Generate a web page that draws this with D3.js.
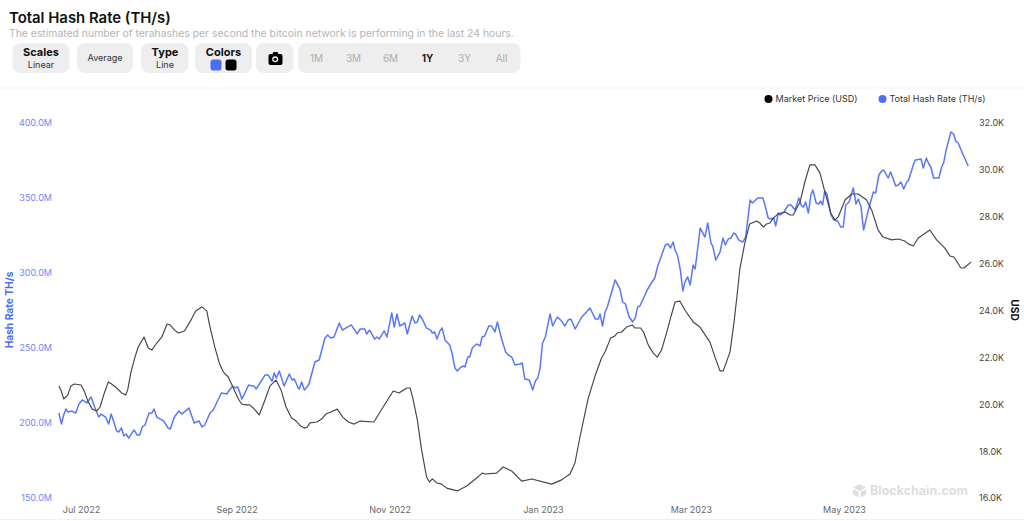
<!DOCTYPE html>
<html>
<head>
<meta charset="utf-8">
<title>Total Hash Rate (TH/s)</title>
<script src="https://cdn.jsdelivr.net/npm/d3@7"></script>
<style>
    html, body { margin: 0; padding: 0; background: #fff; overflow: hidden; }
    text { font-family: Inter, "Noto Sans", sans-serif; }
</style>
</head>
<body>
<div id="chart"></div>
<script>
// values, x is days since 1 Jul 2022
var hashDays = [-8.8,-7.8,-6.9,-6,-5.2,-3.6,-2.1,-0.8,0.5,2.3,4,5.6,7.1,8,9.8,11,12,13.1,14.2,15,16.1,17.1,18,19,21.1,22.4,23.4,24.4,25.5,27.1,28.3,29.1,30.2,32.9,34.7,35.6,37.2,39,40.1,43,45.1,47,48.2,49.3,51.4,52.7,55.9,58,60.4,61.4,62.5,64.1,66.8,68,68.9,69.8,73.3,74.6,76.1,77,77.8,79,80.9,83,84.1,85,86.5,87,87.9,89,90.7,93.2,94.9,97.2,98.3,99.5,100.8,102.9,104.1,106.1,107.7,110,111.2,113.1,113.8,115,117,117.9,118.8,120.8,121.9,123.8,124.8,125.9,127,129,130,131.9,133.1,134,134.9,136,137.6,139.3,140,140.9,141.8,143,143.9,145,146.9,147.7,149,149.9,151.4,152.5,153,154.1,154.9,155.9,157.6,159,159.8,160.8,162.5,163.6,164.9,165.9,167.7,169.2,170.2,171.6,172.9,174.9,175.8,176.8,178.6,180,181,182,182.9,183.9,185,186.9,187.9,189.8,191.5,192.8,194.1,195.2,196.9,199.5,200.7,202.8,204.9,206.1,206.8,207.8,208.8,209.7,212.8,214.7,215.8,216.9,218.4,219.8,220.8,221.8,222.7,225.6,227,228.6,229.8,232.8,233.9,234.9,235.9,236.7,237.7,238.8,239.8,240.6,241.7,242.7,243.9,244.7,246.7,248.6,249.7,251,251.7,252.9,254.6,255.8,256.7,257.9,259,260,260.8,262.1,263.7,264.8,266.6,267.5,269.6,271.7,272.5,273.8,274.9,276,276.8,277.8,278.6,280.1,281.8,282.9,284.5,286,287.1,287.9,288.7,289.8,290.8,291.6,292.9,294,294.7,295.5,296.3,297.2,298.8,299.9,301.5,302.7,303.7,304.7,306,307.7,308.8,309.7,310.8,311.8,313.4,315.7,316.6,317.9,319,319.8,321.6,322.6,324.6,325.6,326.7,327.8,329,329.6,332,332.5,334.7,335.6,336.8,337.8,338.6,339.7,341.8,342.9,343.7,344.7,346.6,347.7,348.5,349.5,351.5,353.5];
var hashValues = [206,198.7,204.7,208.7,206.7,207.3,206,212,214.7,212.7,216.7,209.3,203.3,205.3,203.3,198.7,205.3,200,194,193.3,196,190.7,192,189.3,194.7,191.3,191.3,196.7,198,206,206,208.7,203.3,200.7,196,195.3,203.3,207.3,205.3,209.3,199.3,200.7,196.7,198,206,208,219.3,218.7,224,222.7,223.3,215.3,224.7,224,224,222,231.3,231.3,227.3,232.7,229.3,234,224,232,228,228.7,222.7,222,226.7,221.3,224.7,240,241.3,256,258,256,256.7,266,261.3,263.3,264.7,258.7,262,262,258.7,261.3,255.3,256.7,255.3,260.7,256.7,272.7,263.3,272,264,266,258.7,270.7,266,266.7,271.3,268.7,262.7,261.3,259.3,260,255.3,260.7,262.7,254.7,251.3,246.7,236,234,236.7,237.3,236.7,243.3,243.3,249.3,252,250.7,256.7,257.3,264,264,260,266.7,254.7,246.7,244.7,243.3,238,238.7,239.3,228.7,228,221.3,227.3,229.3,236,252.7,256.7,272,264,270,267.3,264,268,268.7,262,270,272,276,268.7,268.7,272,264,273.3,276.7,294.7,288.7,280,278.7,270,266.7,269.3,276.7,277.3,288,292,296,304,318,318.7,316,320,314.7,310.7,301.3,287.3,293.3,296.7,291.3,304.7,302,329.3,323.3,332.7,319.3,317.3,308,313.3,322.7,318,322,322.7,326,325.3,321.3,320,323.3,348,346,349.3,349.3,344.7,336,335.3,336,330.7,339.3,338,340,344.7,344.7,341.3,349.3,344,343.3,346.7,339.3,351.3,354.7,346,345.3,347.3,344.7,354,352,338,334.7,334,330,330,344.7,346.7,356,345.3,348.7,343.3,328,339.3,353.3,352.7,364.7,367.3,368,362.7,366.7,357.3,358,360,355.3,360,360.7,373.3,374.7,375.3,369.3,376,372,370,362.7,362.7,370,372.7,381.3,393.3,392,387.3,386,378,370.7];
var priceDays = [-8.8,-8,-6.9,-5.3,-4,-2.7,0,1.3,2.9,4.5,6.3,7.6,9.3,10.9,12.2,14.2,16.2,17.8,18.6,19.9,21.5,22.8,25.1,26.8,28.2,30.2,32.2,34.3,35.5,37.2,38.8,41.2,43.4,45.7,48.1,50.1,51.4,53.4,55.1,56.7,58.7,60.7,62.7,64,65.7,67.1,68.6,71,73.3,75.3,77.7,79.7,81.7,83.9,85.7,87.5,89,90.2,91.2,93.9,95.9,97.6,99.5,102.1,104.3,106.5,108.8,111.2,116.7,120.4,124.4,126.7,129.8,131.1,132.1,134,135.7,137.7,138.8,140,141.7,143.7,145.7,149.9,153.7,157.6,159.9,161,165.6,168.2,171.6,175.6,179.6,187.5,191.5,194.8,196.8,198.8,202.1,204.8,207.4,208.8,211,212.7,213.7,215.4,217.4,219.6,220.7,223,224.3,226,228,229.6,231.3,233.3,234.9,236.7,238.6,240.6,243.9,246.6,250.6,252.6,254.6,255.9,258.6,260.2,261.4,262.5,264.5,266.4,269.2,270.5,271.9,273.2,274.5,275.8,277.8,280.5,282.5,283.8,285.2,286.5,288.4,290.4,292.4,294.4,296.4,298.7,300.4,301.7,304.4,307.1,309.7,313,315,317.6,319.6,323,325.6,328.3,329.6,331.6,333.6,338.2,340.9,344.2,346.2,347.8,350.6,351.8,354.7];
var priceValues = [20.74,20.57,20.18,20.35,20.74,20.82,20.78,20.52,20.05,19.75,19.67,19.84,20.44,20.91,20.82,20.65,20.44,20.35,20.57,21.33,21.97,22.4,22.83,22.36,22.27,22.57,22.83,23.38,23.34,23.13,23,23.08,23.47,23.94,24.11,23.94,23.25,22.36,21.72,21.33,21.12,20.65,20.18,19.97,19.93,19.93,19.8,19.5,20.14,20.74,20.99,20.57,19.84,19.37,19.24,19.03,18.94,18.99,19.16,19.2,19.33,19.54,19.63,19.75,19.41,19.2,19.11,19.24,19.2,19.84,20.52,20.44,20.65,20.65,20.27,19.29,18.01,16.85,16.64,16.77,16.6,16.55,16.38,16.26,16.47,16.81,17.02,16.98,17.02,17.28,17.11,16.68,16.77,16.55,16.73,16.98,17.45,18.56,20.22,21.16,21.93,22.19,22.78,22.87,23,23.04,23.25,23.34,23.21,23.21,23,22.49,22.14,21.97,22.27,23,23.64,24.32,24.36,23.98,23.47,23.25,22.61,21.97,21.38,21.38,22.19,23.47,24.62,25.73,26.84,27.65,27.78,27.69,27.52,27.65,27.69,27.9,28.08,28.16,28.03,28.03,28.33,28.59,29.44,30.17,30.17,29.83,29.01,28.12,27.82,27.95,28.67,28.93,28.93,28.67,28.25,27.39,27.09,26.97,27.01,26.92,26.8,26.71,27.05,27.39,26.97,26.62,26.28,26.24,25.77,25.77,26.03];

var hashTicks = [150, 200, 250, 300, 350, 400];
var priceTicks = [16, 18, 20, 22, 24, 26, 28, 30, 32];
var monthTicks = ["2022-07-01", "2022-09-01", "2022-11-01", "2023-01-01", "2023-03-01", "2023-05-01"];
var rangeLabels = ["1M", "3M", "6M", "1Y", "3Y", "All"];

var blue = "#4b6ef5";
var black = "#000000";

var svg = d3.select("#chart").append("svg")
    .attr("width", 1024)
    .attr("height", 521)
    .style("display", "block");

function dayToDate(d) {
    return new Date(Date.UTC(2022, 6, 1) + d * 864e5);
}

var x = d3.scaleUtc().domain([dayToDate(0), new Date("2023-05-01")]).range([81, 844]);
var yHash = d3.scaleLinear().domain([150, 400]).range([497, 122]);
var yPrice = d3.scaleLinear().domain([16, 32]).range([497, 122]);

// header
svg.append("text").attr("x", 9).attr("y", 22.5)
    .style("font-size", "14.9px").style("font-weight", 600).attr("fill", "#111")
    .text("Total Hash Rate (TH/s)");
svg.append("text").attr("x", 9).attr("y", 37)
    .style("font-size", "10.4px").attr("fill", "#b4b4b4")
    .text("The estimated number of terahashes per second the bitcoin network is performing in the last 24 hours.");

function button(x0, x1) {
    svg.append("rect").attr("x", x0).attr("y", 43).attr("width", x1 - x0).attr("height", 30)
        .attr("rx", 8).attr("fill", "#eeeeee");
}
function label(cx, cy, txt, size, weight, color) {
    svg.append("text").attr("x", cx).attr("y", cy).attr("text-anchor", "middle")
        .style("font-size", size + "px").style("font-weight", weight).attr("fill", color).text(txt);
}

button(12.5, 69.5);
label(41, 56, "Scales", 11, 700, "#111");
label(41, 68, "Linear", 9, 400, "#333");
button(77, 133);
label(105, 61, "Average", 9, 400, "#333");
button(141, 188.5);
label(165, 56, "Type", 11, 700, "#111");
label(165, 68, "Line", 9, 400, "#333");
button(195, 252);
label(223.5, 56, "Colors", 11, 700, "#111");
svg.append("rect").attr("x", 210.5).attr("y", 59.5).attr("width", 11).attr("height", 11).attr("rx", 2.5).attr("fill", blue);
svg.append("rect").attr("x", 225.5).attr("y", 59.5).attr("width", 11).attr("height", 11).attr("rx", 2.5).attr("fill", black);
button(256, 293.5);

// camera icon
svg.append("path").attr("fill", "#000")
    .attr("d", "M270.5 54h2l1-2h4l1 2h2q2 0 2 2v7q0 2 -2 2h-10q-2 0 -2 -2v-7q0 -2 2 -2z");
svg.append("circle").attr("cx", 275.2).attr("cy", 59.3).attr("r", 3).attr("fill", "#eee");
svg.append("circle").attr("cx", 275.2).attr("cy", 59.3).attr("r", 1.6).attr("fill", "#000");

button(298, 520.5);
var rangeX = d3.scalePoint().domain(rangeLabels).range([316.5, 501.5]);
rangeLabels.forEach(function (r) {
    label(rangeX(r), 61.5, r, 10, r == "1Y" ? 700 : 400, r == "1Y" ? "#222" : "#adadad");
});

// separators
svg.append("rect").attr("x", 0).attr("y", 87.5).attr("width", 1024).attr("height", 1).attr("fill", "#f3f3f3");
svg.append("rect").attr("x", 0).attr("y", 519).attr("width", 1024).attr("height", 1).attr("fill", "#f0f0f0");

// legend
svg.append("circle").attr("cx", 768.5).attr("cy", 99).attr("r", 4).attr("fill", black);
svg.append("text").attr("x", 775.5).attr("y", 102).style("font-size", "9px").attr("fill", "#333")
    .text("Market Price (USD)");
svg.append("circle").attr("cx", 882.5).attr("cy", 99).attr("r", 4).attr("fill", blue);
svg.append("text").attr("x", 889.5).attr("y", 102).style("font-size", "9px").attr("fill", "#333")
    .text("Total Hash Rate (TH/s)");

// watermark
svg.append("path").attr("fill", "#dedede")
    .attr("d", "M859.5 484l6.5 3.5l-6.5 3.5l-6.5 -3.5z M853 489l5.5 3v5.5l-5.5 -3z M866 489l-5.5 3v5.5l5.5 -3z");
svg.append("text").attr("x", 870).attr("y", 495).style("font-size", "12.5px").style("font-weight", 700)
    .attr("fill", "#dedede").text("Blockchain.com");

// axes
var xAxis = d3.axisBottom(x)
    .tickValues(monthTicks.map(function (d) { return new Date(d); }))
    .tickSize(0)
    .tickFormat(d3.utcFormat("%b %Y"));
var xG = svg.append("g").attr("transform", "translate(0,504)").call(xAxis);
xG.select(".domain").remove();
xG.selectAll("text").style("font-size", "9px").attr("fill", "#666").style("font-family", "Inter");

var leftAxis = d3.axisLeft(yHash)
    .tickValues(hashTicks)
    .tickSize(0)
    .tickPadding(0)
    .tickFormat(function (d) { return d.toFixed(1) + "M"; });
var leftG = svg.append("g").attr("transform", "translate(52,1)").call(leftAxis);
leftG.select(".domain").remove();
leftG.selectAll("text").style("font-size", "9px").attr("fill", "#6d88f7").style("font-family", "Inter");

var rightAxis = d3.axisRight(yPrice)
    .tickValues(priceTicks)
    .tickSize(0)
    .tickPadding(0)
    .tickFormat(function (d) { return d.toFixed(1) + "K"; });
var rightG = svg.append("g").attr("transform", "translate(979,1)").call(rightAxis);
rightG.select(".domain").remove();
rightG.selectAll("text").style("font-size", "9px").attr("fill", "#444").style("font-family", "Inter");

svg.append("text").attr("transform", "translate(12.5,310) rotate(-90)").attr("text-anchor", "middle")
    .style("font-size", "10.2px").style("font-weight", 700).attr("fill", blue).text("Hash Rate TH/s");
svg.append("text").attr("transform", "translate(1011,310) rotate(90)").attr("text-anchor", "middle")
    .style("font-size", "10.2px").style("font-weight", 700).attr("fill", "#111").text("USD");

// lines
var hashLine = d3.line()
    .x(function (d, i) { return x(dayToDate(hashDays[i])); })
    .y(function (d) { return yHash(d); });
var priceLine = d3.line()
    .x(function (d, i) { return x(dayToDate(priceDays[i])); })
    .y(function (d) { return yPrice(d); });

svg.append("path").datum(hashValues)
    .attr("fill", "none").attr("stroke", "#5a78f6").attr("stroke-width", 1.5)
    .attr("stroke-linejoin", "round").attr("d", hashLine);
svg.append("path").datum(priceValues)
    .attr("fill", "none").attr("stroke", "#444444").attr("stroke-width", 1.15)
    .attr("stroke-linejoin", "round").attr("d", priceLine);
</script>
</body>
</html>
